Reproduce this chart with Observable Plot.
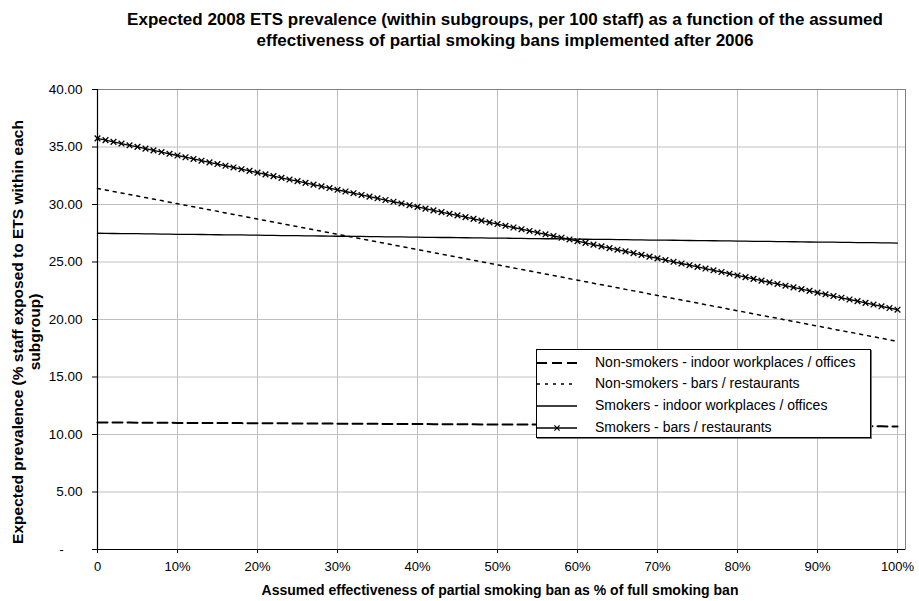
<!DOCTYPE html>
<html>
<head>
<meta charset="utf-8">
<script src="https://cdn.jsdelivr.net/npm/d3@7"></script>
<script src="https://cdn.jsdelivr.net/npm/@observablehq/plot@0.6"></script>
<style>
  body { margin: 0; background: #fff; }
  #wrap { position: relative; width: 919px; height: 601px; font-family: "Liberation Sans", Arial, sans-serif; color: #000; }
  #wrap svg { position: absolute; left: 0; top: 0; }
  .title { position: absolute; left: 55px; width: 900px; text-align: center; font-weight: bold; font-size: 17px; line-height: 21px; top: 9px; }
  .xtitle { position: absolute; left: 100px; width: 800px; text-align: center; font-weight: bold; font-size: 14px; top: 582px; }
  .ytitle { position: absolute; left: 26px; top: 332px; width: 560px; transform: translate(-50%, -50%) rotate(-90deg); text-align: center; font-weight: bold; font-size: 15.5px; line-height: 17px; }
  .legend { position: absolute; left: 536px; top: 349px; width: 333px; height: 87px; border: 1px solid #000; background: #fff; box-shadow: 1px 1px 0 #777; }
  .lrow { position: absolute; left: 0; height: 20px; font-size: 14px; white-space: nowrap; }
  .lrow svg { position: absolute; left: 15px; top: 0; }
  .lrow span { position: absolute; left: 58px; top: 1px; }
</style>
</head>
<body>
<div id="wrap">
</div>
<script>
const effectiveness = [0,1,2,3,4,5,6,7,8,9,10,11,12,13,14,15,16,17,18,19,20,21,22,23,24,25,26,27,28,29,30,31,32,33,34,35,36,37,38,39,40,41,42,43,44,45,46,47,48,49,50,51,52,53,54,55,56,57,58,59,60,61,62,63,64,65,66,67,68,69,70,71,72,73,74,75,76,77,78,79,80,81,82,83,84,85,86,87,88,89,90,91,92,93,94,95,96,97,98,99,100];

const nonSmokersIndoor = [11.05,11.05,11.04,11.04,11.04,11.03,11.03,11.03,11.02,11.02,
11.01,11.01,11.01,11.00,11.00,11.00,10.99,10.99,10.99,10.98,
10.98,10.98,10.97,10.97,10.97,10.96,10.96,10.96,10.95,10.95,
10.94,10.94,10.94,10.93,10.93,10.93,10.92,10.92,10.92,10.91,
10.91,10.91,10.90,10.90,10.90,10.89,10.89,10.89,10.88,10.88,
10.87,10.87,10.87,10.86,10.86,10.86,10.85,10.85,10.85,10.84,
10.84,10.84,10.83,10.83,10.83,10.82,10.82,10.82,10.81,10.81,
10.80,10.80,10.80,10.79,10.79,10.79,10.78,10.78,10.78,10.77,
10.77,10.77,10.76,10.76,10.76,10.75,10.75,10.75,10.74,10.74,
10.73,10.73,10.73,10.72,10.72,10.72,10.71,10.71,10.71,10.70,
10.70];

const nonSmokersBars = [31.40,31.27,31.13,31.00,30.87,30.74,30.60,30.47,30.34,30.20,
30.07,29.94,29.80,29.67,29.54,29.41,29.27,29.14,29.01,28.87,
28.74,28.61,28.47,28.34,28.21,28.08,27.94,27.81,27.68,27.54,
27.41,27.28,27.14,27.01,26.88,26.75,26.61,26.48,26.35,26.21,
26.08,25.95,25.81,25.68,25.55,25.42,25.28,25.15,25.02,24.88,
24.75,24.62,24.48,24.35,24.22,24.09,23.95,23.82,23.69,23.55,
23.42,23.29,23.15,23.02,22.89,22.76,22.62,22.49,22.36,22.22,
22.09,21.96,21.82,21.69,21.56,21.43,21.29,21.16,21.03,20.89,
20.76,20.63,20.49,20.36,20.23,20.10,19.96,19.83,19.70,19.56,
19.43,19.30,19.16,19.03,18.90,18.77,18.63,18.50,18.37,18.23,
18.10];

const smokersIndoor = [27.50,27.49,27.48,27.47,27.47,27.46,27.45,27.44,27.43,27.42,
27.41,27.41,27.40,27.39,27.38,27.37,27.36,27.36,27.35,27.34,
27.33,27.32,27.31,27.30,27.30,27.29,27.28,27.27,27.26,27.25,
27.24,27.24,27.23,27.22,27.21,27.20,27.19,27.19,27.18,27.17,
27.16,27.15,27.14,27.13,27.13,27.12,27.11,27.10,27.09,27.08,
27.07,27.07,27.06,27.05,27.04,27.03,27.02,27.02,27.01,27.00,
26.99,26.98,26.97,26.96,26.96,26.95,26.94,26.93,26.92,26.91,
26.90,26.90,26.89,26.88,26.87,26.86,26.85,26.85,26.84,26.83,
26.82,26.81,26.80,26.79,26.79,26.78,26.77,26.76,26.75,26.74,
26.73,26.73,26.72,26.71,26.70,26.69,26.68,26.68,26.67,26.66,
26.65];

const smokersBars = [35.75,35.60,35.45,35.30,35.15,35.01,34.86,34.71,34.56,34.41,
34.26,34.11,33.96,33.81,33.66,33.52,33.37,33.22,33.07,32.92,
32.77,32.62,32.47,32.32,32.17,32.03,31.88,31.73,31.58,31.43,
31.28,31.13,30.98,30.83,30.68,30.54,30.39,30.24,30.09,29.94,
29.79,29.64,29.49,29.34,29.19,29.05,28.90,28.75,28.60,28.45,
28.30,28.15,28.00,27.85,27.70,27.56,27.41,27.26,27.11,26.96,
26.81,26.66,26.51,26.36,26.21,26.07,25.92,25.77,25.62,25.47,
25.32,25.17,25.02,24.87,24.72,24.58,24.43,24.28,24.13,23.98,
23.83,23.68,23.53,23.38,23.23,23.09,22.94,22.79,22.64,22.49,
22.34,22.19,22.04,21.89,21.74,21.60,21.45,21.30,21.15,21.00,
20.85];

const seriesNames = [
  "Non-smokers - indoor workplaces / offices",
  "Non-smokers - bars / restaurants",
  "Smokers - indoor workplaces / offices",
  "Smokers - bars / restaurants"
];
const xTicks = [0,10,20,30,40,50,60,70,80,90,100];
const yTicks = [0,5,10,15,20,25,30,35,40];
const titleLines = [
  "Expected 2008 ETS prevalence (within subgroups, per 100 staff) as a function of the assumed",
  "effectiveness of partial smoking bans implemented after 2006"
];
const xTitle = "Assumed effectiveness of partial smoking ban as % of full smoking ban";
const yTitleLines = ["Expected prevalence (% staff exposed to ETS within each", "subgroup)"];

const seriesValues = [nonSmokersIndoor, nonSmokersBars, smokersIndoor, smokersBars];
const rows = [];
seriesValues.forEach((vals, s) => vals.forEach((v, i) => rows.push({x: effectiveness[i], y: v, series: seriesNames[s]})));
const bySeries = name => rows.filter(d => d.series === name);

const styles = [
  {stroke: "#000", strokeWidth: 2, strokeDasharray: "10,5"},
  {stroke: "#000", strokeWidth: 1.5, strokeDasharray: "3,5"},
  {stroke: "#000", strokeWidth: 1.3},
  {stroke: "#000", strokeWidth: 1.3}
];

const chart = Plot.plot({
  width: 919,
  height: 601,
  marginLeft: 97,
  marginRight: 14,
  marginTop: 89,
  marginBottom: 52,
  style: {fontFamily: '"Liberation Sans", Arial, sans-serif', background: "transparent", color: "#000"},
  x: {domain: [0, 101]},
  y: {domain: [0, 40]},
  marks: [
    Plot.ruleX(xTicks.filter(d => d > 0), {stroke: "#c0c0c0", strokeWidth: 1}),
    Plot.ruleY(yTicks.filter(d => d > 0 && d < 40), {stroke: "#c0c0c0", strokeWidth: 1}),
    Plot.frame({stroke: "#808080", strokeWidth: 1}),
    Plot.ruleX([0], {stroke: "#000", strokeWidth: 1.2}),
    Plot.ruleY([0], {stroke: "#000", strokeWidth: 1.2}),
    Plot.axisX({ticks: xTicks, tickFormat: d => d === 0 ? "0" : d + "%", tickSize: 4, tickPadding: 8, fontSize: 13, label: null, stroke: "#000"}),
    Plot.axisY({ticks: yTicks, tickFormat: d => d === 0 ? "-\u00a0\u00a0\u00a0\u00a0\u00a0" : d.toFixed(2), tickSize: 5, tickPadding: 10, fontSize: 13.5, label: null, stroke: "#000"}),
    ...seriesNames.map((name, s) => Plot.line(bySeries(name), {x: "x", y: "y", ...styles[s]})),
    Plot.dot(bySeries(seriesNames[3]), {x: "x", y: "y", symbol: "times", r: 2.7, stroke: "#000", strokeWidth: 1.3})
  ]
});

const wrap = document.getElementById("wrap");
wrap.appendChild(chart);

const t = document.createElement("div");
t.className = "title";
t.innerHTML = titleLines.map(l => `<div>${l}</div>`).join("");
wrap.appendChild(t);

const xt = document.createElement("div");
xt.className = "xtitle";
xt.textContent = xTitle;
wrap.appendChild(xt);

const yt = document.createElement("div");
yt.className = "ytitle";
yt.innerHTML = yTitleLines.map(l => `<div>${l}</div>`).join("");
wrap.appendChild(yt);

const lg = document.createElement("div");
lg.className = "legend";
const rowTops = [3, 24, 46, 68];
seriesNames.forEach((name, s) => {
  const st = styles[s];
  const r = document.createElement("div");
  r.className = "lrow";
  r.style.top = rowTops[s] + "px";
  let sample = `<line x1="0" x2="40" y1="10" y2="10" stroke="#000" stroke-width="${st.strokeWidth}" ${st.strokeDasharray ? `stroke-dasharray="${st.strokeDasharray}"` : ""}/>`;
  if (s === 3) sample += `<path d="M17.4,7.4L22.6,12.6M22.6,7.4L17.4,12.6" stroke="#000" stroke-width="1.2"/>`;
  r.innerHTML = `<svg width="40" height="20">${sample}</svg><span>${name}</span>`;
  lg.appendChild(r);
});
wrap.appendChild(lg);
</script>
</body>
</html>
